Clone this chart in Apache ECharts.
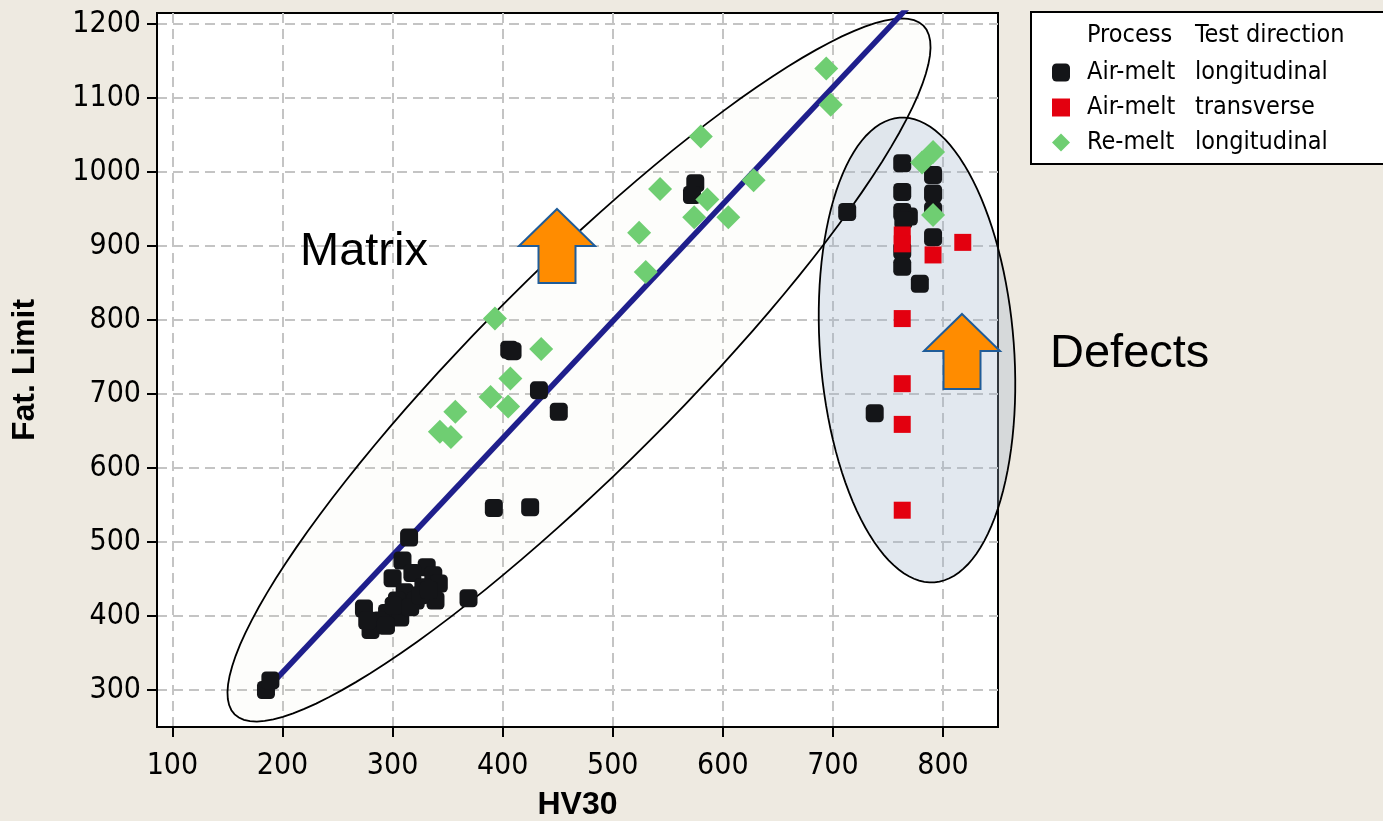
<!DOCTYPE html>
<html>
<head>
<meta charset="utf-8">
<script src="https://cdn.jsdelivr.net/npm/echarts@6/dist/echarts.min.js"></script>
<style>
html,body{margin:0;padding:0;background:#EEEAE1;}
#chart{width:1383px;height:821px;}
</style>
</head>
<body>
<div id="chart"></div>
<script>
// ---- data ----
const xTicks = [100, 200, 300, 400, 500, 600, 700, 800];
const yTicks = [300, 400, 500, 600, 700, 800, 900, 1000, 1100, 1200];

const airMeltLongitudinal = [
  [185,300],[189,313],
  [315,506],[309,475],[300,451],[331,466],[337,455],[342,444],[318,458],[311,432],
  [321,421],[339,421],[304,421],[274,410],[295,404],[307,398],[289,394],[280,381],
  [277,394],[369,424],[328,439],[301,414],[316,412],[325,428],[333,435],[294,387],
  [392,546],[425,547],[406,760],[409,758],[433,705],[451,676],[575,985],[572,969],
  [763,1012],[791,996],[791,971],[763,973],[763,946],[769,940],[764,935],[791,948],
  [791,912],[763,894],[763,872],[779,849],[713,946],[738,674]
];
const airMeltTransverse = [
  [763,915],[763,903],[791,888],[818,905],[763,802],[763,714],[763,659],[763,543]
];
const reMeltLongitudinal = [
  [393,802],[435,761],[407,721],[389,696],[405,683],[357,676],[343,649],[353,642],
  [694,1140],[698,1091],[580,1048],[543,977],[628,989],[586,963],[574,939],[605,939],
  [524,918],[530,865],[781,1013],[791,1027],[791,942]
];
const fitLine = [[185,300],[800,1273]];

const seriesNames = ['Air-melt longitudinal', 'Air-melt transverse', 'Re-melt longitudinal'];
const legendProcess = ['Air-melt', 'Air-melt', 'Re-melt'];
const legendDirection = ['longitudinal', 'transverse', 'longitudinal'];
const legendHeader = ['Process', 'Test direction'];

// ---- chart ----
const FONT = "'DejaVu Sans Condensed', 'DejaVu Sans', sans-serif";
const chart = echarts.init(document.getElementById('chart'), null, {renderer: 'canvas'});

function ellipsePoints(cx, cy, a, b, ux, uy) {
  const pts = [];
  const n = 120;
  for (let k = 0; k < n; k++) {
    const t = 2 * Math.PI * k / n;
    const c = Math.cos(t), s = Math.sin(t);
    pts.push([cx + a * c * ux - b * s * uy, cy + a * c * uy + b * s * ux]);
  }
  return pts;
}
function arrowPoints(tipX, tipY, halfWing, wingY, halfShaft, bottomY) {
  return [[tipX, tipY], [tipX + halfWing, wingY], [tipX + halfShaft, wingY],
          [tipX + halfShaft, bottomY], [tipX - halfShaft, bottomY],
          [tipX - halfShaft, wingY], [tipX - halfWing, wingY]];
}
const matrixEll = ellipsePoints(579, 370, 487, 100, 0.7071, -0.7071);
const defectEll = ellipsePoints(917, 350, 233, 97, -0.075, -0.997);

const legendMap = {};
seriesNames.forEach((n, i) => { legendMap[n] = [legendProcess[i], legendDirection[i]]; });

const plainNum = v => String(v);

const option = {
  backgroundColor: '#EEEAE1',
  animation: false,
  grid: {
    left: 157, right: 385, top: 13, bottom: 94,
    outerBoundsMode: 'none', containLabel: false,
    show: true, backgroundColor: '#ffffff', borderColor: '#000', borderWidth: 2
  },
  xAxis: {
    type: 'value', min: 86, max: 850,
    name: 'HV30', nameLocation: 'middle', nameGap: 62,
    nameTextStyle: {fontSize: 32, fontWeight: 'bold', fontFamily: 'Liberation Sans', color: '#000'},
    axisLine: {show: true, onZero: false, lineStyle: {color: '#000', width: 2}},
    axisTick: {show: true, inside: false, length: 10, customValues: xTicks, lineStyle: {color: '#000', width: 2}},
    axisLabel: {customValues: xTicks, margin: 24, fontSize: 30, color: '#000', fontFamily: FONT, formatter: plainNum},
    splitLine: {show: true, lineStyle: {color: '#C4C4C4', width: 2, type: [10, 6]}}
  },
  yAxis: {
    type: 'value', min: 250, max: 1215,
    name: 'Fat. Limit', nameLocation: 'middle', nameGap: 116, nameRotate: 90,
    nameTextStyle: {fontSize: 32, fontWeight: 'bold', fontFamily: 'Liberation Sans', color: '#000'},
    axisLine: {show: true, onZero: false, lineStyle: {color: '#000', width: 2}},
    axisTick: {show: true, inside: false, length: 10, customValues: yTicks, lineStyle: {color: '#000', width: 2}},
    axisLabel: {customValues: yTicks, margin: 16, fontSize: 30, color: '#000', fontFamily: FONT, formatter: plainNum},
    splitLine: {show: true, lineStyle: {color: '#C4C4C4', width: 2, type: [10, 6]}}
  },
  legend: {
    left: 1047, top: 55, orient: 'vertical', selectedMode: false,
    itemWidth: 18, itemHeight: 18, itemGap: 10,
    data: [
      {name: seriesNames[0], icon: 'roundRect'},
      {name: seriesNames[1], icon: 'rect'},
      {name: seriesNames[2], icon: 'diamond'}
    ],
    formatter: function (name) {
      const p = legendMap[name];
      return '{s|}{a|' + p[0] + '}{b|' + p[1] + '}';
    },
    textStyle: {
      color: '#000', fontSize: 25, fontFamily: FONT, lineHeight: 25,
      rich: {
        s: {width: 12, lineHeight: 25},
        a: {width: 108, fontSize: 25, lineHeight: 25, fontFamily: FONT, color: '#000'},
        b: {fontSize: 25, lineHeight: 25, fontFamily: FONT, color: '#000'}
      }
    }
  },
  graphic: {
    elements: [
      {type: 'polygon', z: 1, silent: true, shape: {points: matrixEll},
       style: {fill: 'rgba(225,225,200,0.07)', stroke: null}},
      {type: 'polygon', z: 1, silent: true, shape: {points: defectEll},
       style: {fill: 'rgba(158,178,202,0.30)', stroke: '#000', lineWidth: 1.8}},
      {type: 'polygon', z: 1, silent: true, shape: {points: matrixEll},
       style: {fill: null, stroke: '#000', lineWidth: 1.8}},
      {type: 'polygon', z: 1, silent: true, shape: {points: arrowPoints(557, 209, 38, 246, 18.5, 283)},
       style: {fill: '#FF8C00', stroke: '#1F5C99', lineWidth: 2}},
      {type: 'polygon', z: 1, silent: true, shape: {points: arrowPoints(962, 314, 38, 351, 18.5, 389)},
       style: {fill: '#FF8C00', stroke: '#1F5C99', lineWidth: 2}},
      {type: 'text', z: 1, silent: true, left: 300, top: 229,
       style: {text: 'Matrix', fill: '#000', font: '47px "Liberation Sans", Arial, sans-serif'}},
      {type: 'text', z: 1, silent: true, left: 1050, top: 331,
       style: {text: 'Defects', fill: '#000', font: '47px "Liberation Sans", Arial, sans-serif'}},
      {type: 'rect', z: 1, silent: true, shape: {x: 1031, y: 12, width: 420, height: 152},
       style: {fill: '#ffffff', stroke: '#000', lineWidth: 2}},
      {type: 'text', z: 2, silent: true, left: 1087, top: 23,
       style: {text: legendHeader[0], fill: '#000', font: '25px ' + FONT}},
      {type: 'text', z: 2, silent: true, left: 1195, top: 23,
       style: {text: legendHeader[1], fill: '#000', font: '25px ' + FONT}}
    ]
  },
  series: [
    {
      name: 'fit', type: 'line', data: fitLine, z: 3, clip: true, symbol: 'none',
      lineStyle: {color: '#1F1F8C', width: 5.5}, silent: true
    },
    {
      name: seriesNames[0], type: 'scatter', data: airMeltLongitudinal, z: 4,
      symbol: 'roundRect', symbolSize: 18, itemStyle: {color: '#141518', opacity: 1}
    },
    {
      name: seriesNames[1], type: 'scatter', data: airMeltTransverse, z: 5,
      symbol: 'rect', symbolSize: 17, itemStyle: {color: '#E3000F', opacity: 1}
    },
    {
      name: seriesNames[2], type: 'scatter', data: reMeltLongitudinal, z: 6,
      symbol: 'diamond', symbolSize: 24, itemStyle: {color: '#6FCE72', opacity: 1}
    }
  ]
};
chart.setOption(option);
</script>
</body>
</html>
